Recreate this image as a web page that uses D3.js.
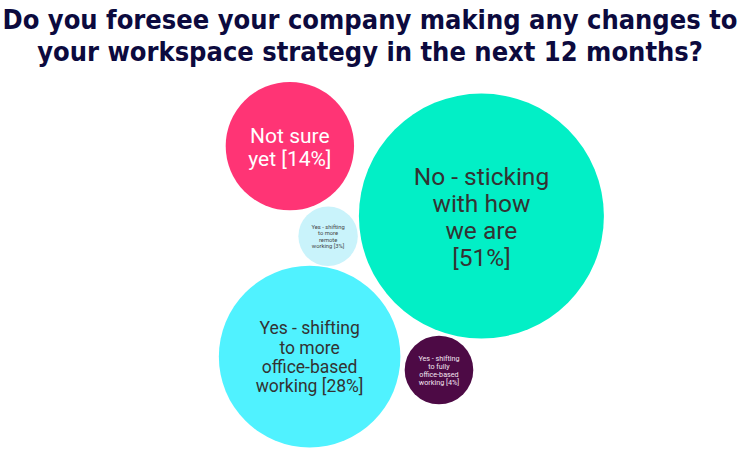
<!DOCTYPE html>
<html>
  <head>
    <meta charset="utf-8">
    <title>Workspace strategy bubbles</title>
    <style media="screen">
      body {
        margin: 0;
        background: #fff;
      }
      .title {
        font-family: "DejaVu Sans Condensed", "Liberation Sans", sans-serif;
        font-weight: bold;
        fill: #0c0a3e;
      }
      .bubble-label {
        font-family: Roboto, "Noto Sans", sans-serif;
      }
    </style>
    <script src="https://cdnjs.cloudflare.com/ajax/libs/d3/7.8.5/d3.min.js"></script>
  </head>
  <body>
    <div id="chart"></div>
    <script type="text/javascript">
    // data
    var categories = [
      'Not sure yet',
      'No - sticking with how we are',
      'Yes - shifting to more remote working',
      'Yes - shifting to more office-based working',
      'Yes - shifting to fully office-based working'
    ];
    var values = [14, 51, 3, 28, 4];
    var labelLines = [
      ['Not sure', 'yet [14%]'],
      ['No - sticking', 'with how', 'we are', '[51%]'],
      ['Yes - shifting', 'to more', 'remote', 'working [3%]'],
      ['Yes - shifting', 'to more', 'office-based', 'working [28%]'],
      ['Yes - shifting', 'to fully', 'office-based', 'working [4%]']
    ];
    var titleLines = [
      'Do you foresee your company making any changes to',
      'your workspace strategy in the next 12 months?'
    ];

    // layout (bubble anchors, 0-100 units) and styles
    var anchorX = [21.4, 67.0, 30.5, 26.1, 56.9];
    var anchorY = [17.4, 35.8, 41.1, 72.8, 76.3];
    var fills = ['#ff3475', '#02efc6', '#c9f3fb', '#50f2ff', '#4d0a45'];
    var textFills = ['#ffffff', '#333333', '#444444', '#333333', '#f4e6f2'];
    var fontSizes = [21, 24.5, 5.8, 17.5, 7.2];

    var w = 740, h = 468;
    var svg = d3.select('#chart').append('svg').attr('width', w).attr('height', h);

    svg.append('g').selectAll('text').data(titleLines).enter()
      .append('text').attr('class', 'title')
      .attr('x', w / 2)
      .attr('y', (d, i) => 29 + i * 32)
      .attr('text-anchor', 'middle')
      .style('font-size', '27px')
      .text(d => d);

    var x = d3.scaleLinear().domain([0, 100]).range([200, 620]);
    var y = d3.scaleLinear().domain([0, 100]).range([80, 460]);
    var r = d3.scaleSqrt().domain([0, d3.max(values)]).range([0, 122.5]);

    var nodes = values.map((v, i) => ({
      name: categories[i], value: v, lines: labelLines[i],
      cx: x(anchorX[i]), cy: y(anchorY[i]),
      fill: fills[i], tfill: textFills[i], fs: fontSizes[i]
    }));

    var g = svg.append('g').attr('class', 'bubbles')
      .selectAll('g').data(nodes).enter().append('g');

    g.append('circle')
      .attr('cx', d => d.cx)
      .attr('cy', d => d.cy)
      .attr('r', d => r(d.value))
      .style('fill', d => d.fill);

    g.each(function(d) {
      let n = d.lines.length;
      let lh = d.fs * 1.1;
      d3.select(this).selectAll('text').data(d.lines).enter()
        .append('text').attr('class', 'bubble-label')
        .attr('x', d.cx)
        .attr('y', (t, i) => d.cy + (i - (n - 1) / 2) * lh + d.fs * 0.38)
        .attr('text-anchor', 'middle')
        .style('font-size', d.fs + 'px')
        .style('fill', d.tfill)
        .text(t => t);
    });
    </script>
  </body>
</html>
